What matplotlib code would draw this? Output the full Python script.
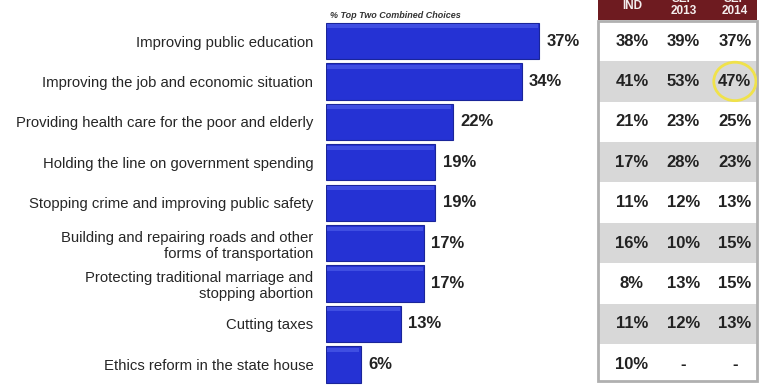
import matplotlib.pyplot as plt
from matplotlib.patches import Ellipse, Rectangle

plt.rcParams['font.family'] = ['Liberation Sans', 'DejaVu Sans']

# data
issues = ['Improving public education',
          'Improving the job and economic situation',
          'Providing health care for the poor and elderly',
          'Holding the line on government spending',
          'Stopping crime and improving public safety',
          'Building and repairing roads and other\nforms of transportation',
          'Protecting traditional marriage and\nstopping abortion',
          'Cutting taxes',
          'Ethics reform in the state house']
top_two = [37, 34, 22, 19, 19, 17, 17, 13, 6]
col_heads = ['IND', 'SEP\n2013', 'SEP\n2014']
ind = ['38%', '41%', '21%', '17%', '11%', '16%', '8%', '11%', '10%']
sep2013 = ['39%', '53%', '23%', '28%', '12%', '10%', '13%', '12%', '-']
sep2014 = ['37%', '47%', '25%', '23%', '13%', '15%', '15%', '13%', '-']

W, H = 762, 385
fig = plt.figure(figsize=(W / 100, H / 100), dpi=100)

def px(x0, y0, x1, y1):
    # pixel box -> figure fraction
    return [x0 / W, 1 - y1 / H, (x1 - x0) / W, (y1 - y0) / H]

n = len(issues)
rows = list(range(n))

# bar chart
ax = fig.add_axes(px(326, 20.8, 590, 384.6))
ax.barh(rows, top_two, height=0.9, color='#2532d4', edgecolor='#1a259a', linewidth=0.8)
# bevel highlight
ax.barh([r - 0.36 for r in rows], [v - 0.4 for v in top_two], left=0.2, height=0.1,
        color='#3f4ee2', linewidth=0)
ax.set_xlim(0, 264 / 5.75)
ax.set_ylim(n - 0.5, -0.5)
ax.set_yticks(rows)
ax.set_yticklabels(issues, fontsize=10.7, color='#262626', linespacing=1.2)
ax.tick_params(axis='y', length=0, pad=9)
ax.set_xticks([])
for s in ax.spines.values():
    s.set_visible(False)
for r, v in zip(rows, top_two):
    ax.text(v + 1.3, r, f'{v}%', va='center', ha='left', fontsize=12,
            fontweight='bold', color='#222222')

fig.text(330 / W, 1 - 15 / H, '% Top Two Combined Choices', fontsize=6.5,
         fontstyle='italic', fontweight='bold', color='#333333', va='center')

# table on the right
x0, x1 = -0.16, 2.93
tx = fig.add_axes(px(598, 20.8, 757, 384.6))
tx.set_xlim(x0, x1)
tx.set_ylim(n - 0.5, -0.5)
tx.axis('off')
for r in rows:
    fc = '#d8d8d8' if r % 2 == 1 else 'white'
    tx.add_patch(Rectangle((x0, r - 0.5), x1 - x0, 1, facecolor=fc, edgecolor='none'))
tx.add_patch(Rectangle((x0, -0.5), x1 - x0, n - 0.08, facecolor='none',
                       edgecolor='#b0b0b0', linewidth=2, clip_on=False))
tx.add_patch(Rectangle((x0, -1.02), x1 - x0, 0.5, facecolor='#6e1b20',
                       edgecolor='none', clip_on=False))
for c, col in enumerate([ind, sep2013, sep2014]):
    for r in rows:
        tx.text(c + 0.5, r, col[r], ha='center', va='center', fontsize=12,
                fontweight='bold', color='#222222')
    yb = -0.73 if c == 0 else -0.6
    tx.text(c + 0.5, yb, col_heads[c], ha='center', va='bottom', fontsize=8.5,
            fontweight='bold', color='#f4eeee', linespacing=0.95, clip_on=False)

tx.add_patch(Ellipse((2.5, 1), 0.82, 0.95, facecolor='none', edgecolor='#f0e24a',
                     linewidth=2))

fig.savefig('out.png', dpi=100)
